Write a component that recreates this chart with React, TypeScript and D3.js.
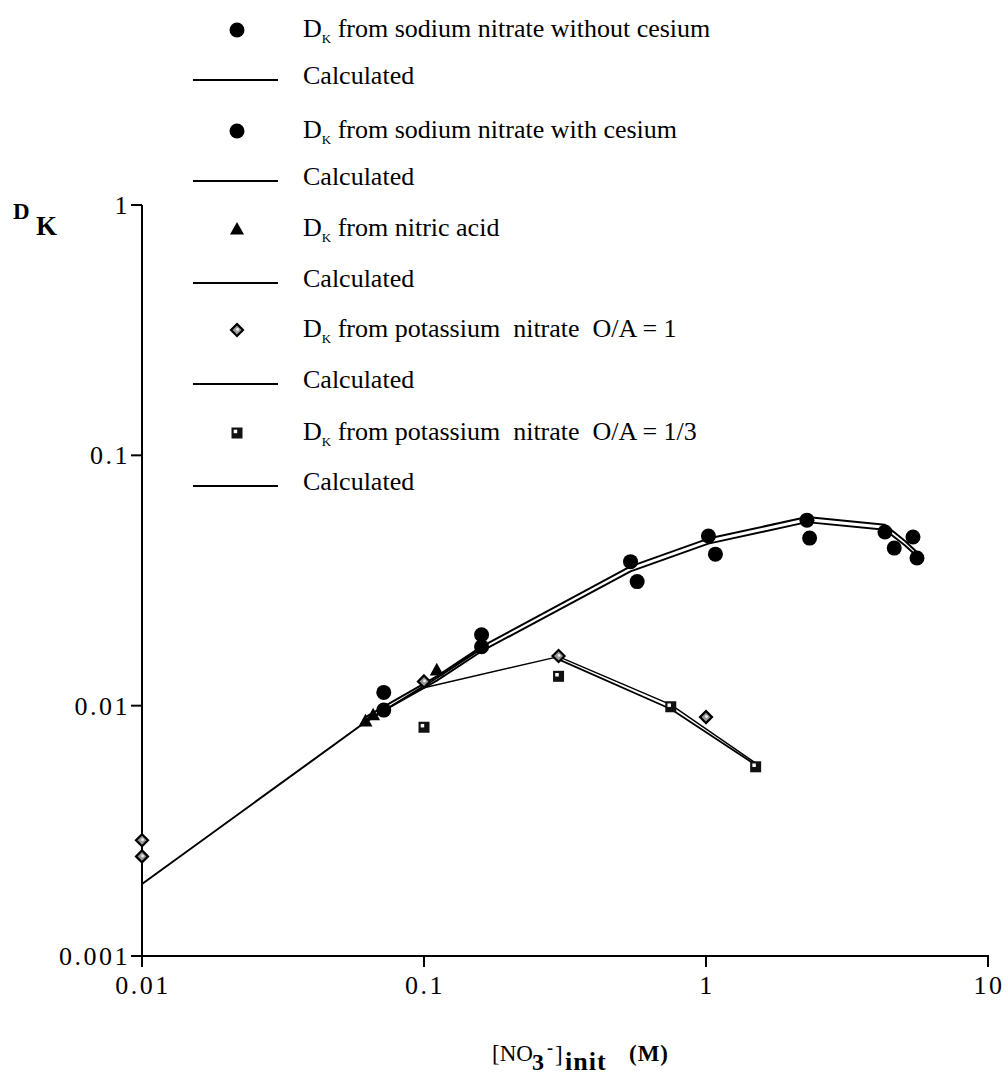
import React from 'react';
import * as d3 from 'd3';

// ---- data ----
const naNoCsX = [0.072, 0.16, 0.54, 1.02, 2.28, 4.31, 5.42];
const naNoCsY = [0.0113, 0.0192, 0.0376, 0.0476, 0.0551, 0.0494, 0.0472];

const naCsX = [0.072, 0.16, 0.57, 1.08, 2.33, 4.65, 5.6];
const naCsY = [0.0096, 0.0172, 0.0313, 0.0403, 0.0467, 0.0426, 0.0389];

const hno3X = [0.062, 0.066, 0.111];
const hno3Y = [0.0087, 0.0092, 0.0139];

const kno3aX = [0.01, 0.01, 0.1, 0.3, 1.0];
const kno3aY = [0.0029, 0.0025, 0.0125, 0.0158, 0.009];

const kno3bX = [0.1, 0.3, 0.75, 1.5];
const kno3bY = [0.0082, 0.0131, 0.0099, 0.0057];

// calculated curves
const calcNoCsX = [0.062, 0.111, 0.16, 0.54, 1.02, 2.28, 4.31, 5.08, 5.6];
const calcNoCsY = [0.009, 0.0131, 0.0172, 0.036, 0.0465, 0.0567, 0.0528, 0.0455, 0.041];
const calcCsX = [0.062, 0.111, 0.16, 0.54, 1.02, 2.28, 4.31, 5.08, 5.6];
const calcCsY = [0.0087, 0.0126, 0.0165, 0.0344, 0.0444, 0.0541, 0.0504, 0.0436, 0.0395];
const calcHno3X = [0.01, 0.062, 0.111, 0.16];
const calcHno3Y = [0.00194, 0.0086, 0.0129, 0.0169];
const calcKaX = [0.1, 0.3, 0.75, 1.5];
const calcKaY = [0.0118, 0.0157, 0.0101, 0.0059];
const calcKbX = [0.3, 0.75, 1.5];
const calcKbY = [0.0153, 0.0097, 0.0058];

const xTicks = [0.01, 0.1, 1, 10];
const yTicks = [0.001, 0.01, 0.1, 1];
const tickLabel = (v: number) => String(v);

const legendRows = [
  { kind: 'circle', text: ' from sodium nitrate without cesium' },
  { kind: 'line', text: 'Calculated' },
  { kind: 'circle', text: ' from sodium nitrate with cesium' },
  { kind: 'line', text: 'Calculated' },
  { kind: 'triangle', text: ' from nitric acid' },
  { kind: 'line', text: 'Calculated' },
  { kind: 'diamond', text: ' from potassium  nitrate  O/A = 1' },
  { kind: 'line', text: 'Calculated' },
  { kind: 'square', text: ' from potassium  nitrate  O/A = 1/3' },
  { kind: 'line', text: 'Calculated' },
];
const legendBase = [37, 84, 138, 185, 236, 287, 337, 388, 440, 490];

const FONT = '"Liberation Serif", "Times New Roman", Times, serif';

const zip = (xs: number[], ys: number[]) => xs.map((x, i) => [x, ys[i]] as [number, number]);

function Marker({ kind, cx, cy }: { kind: string; cx: number; cy: number }) {
  if (kind === 'circle') return <circle cx={cx} cy={cy} r={7.5} fill="#000" />;
  if (kind === 'triangle') {
    const s = 7;
    return <path d={`M${cx},${cy - s}L${cx + s},${cy + s * 0.8}L${cx - s},${cy + s * 0.8}Z`} fill="#000" />;
  }
  if (kind === 'diamond') {
    const s = 6;
    return (
      <g>
        <path d={`M${cx},${cy - s}L${cx + s},${cy}L${cx},${cy + s}L${cx - s},${cy}Z`} fill="#999" stroke="#000" strokeWidth={2.2} />
        <circle cx={cx + 0.5} cy={cy - 0.5} r={1.4} fill="#eee" />
      </g>
    );
  }
  if (kind === 'square') {
    const s = 5.5;
    return (
      <g>
        <rect x={cx - s} y={cy - s} width={2 * s} height={2 * s} fill="#111" />
        <rect x={cx - s + 2.2} y={cy - s + 2.2} width={3.5} height={3.5} fill="#fff" />
      </g>
    );
  }
  return null;
}

export default function App() {
  const width = 1008;
  const height = 1080;

  const x = d3.scaleLog().domain([0.01, 10]).range([142, 988]);
  const y = d3.scaleLog().domain([0.001, 1]).range([956, 205]);

  const line = d3
    .line<[number, number]>()
    .x((d) => x(d[0]))
    .y((d) => y(d[1]));

  const calcSeries = [
    { pts: zip(calcNoCsX, calcNoCsY), w: 2 },
    { pts: zip(calcCsX, calcCsY), w: 2 },
    { pts: zip(calcHno3X, calcHno3Y), w: 2 },
    { pts: zip(calcKaX, calcKaY), w: 1.5 },
    { pts: zip(calcKbX, calcKbY), w: 1.8 },
  ];

  const pointSeries = [
    { kind: 'circle', pts: zip(naNoCsX, naNoCsY) },
    { kind: 'circle', pts: zip(naCsX, naCsY) },
    { kind: 'triangle', pts: zip(hno3X, hno3Y) },
    { kind: 'square', pts: zip(kno3bX, kno3bY) },
    { kind: 'diamond', pts: zip(kno3aX, kno3aY) },
  ];

  const [x0, x1] = x.range();
  const [y0, y1] = y.range();

  return (
    <svg
      width={width}
      height={height}
      style={{ position: 'absolute', left: 0, top: 0, background: '#fff', fontFamily: FONT }}
    >
      {/* axes */}
      <g stroke="#000" strokeWidth={2}>
        <line x1={x0} x2={x0} y1={y1} y2={y0 + 1} />
        <line x1={x0 - 1} x2={x1 + 1} y1={y0} y2={y0} />
        {yTicks.map((t) => (
          <line key={'yt' + t} x1={x0 - 11} x2={x0} y1={y(t)} y2={y(t)} />
        ))}
        {xTicks.map((t) => (
          <line key={'xt' + t} x1={x(t)} x2={x(t)} y1={y0} y2={y0 + 11} />
        ))}
      </g>
      {yTicks.map((t) => (
        <text key={'yl' + t} x={x0 - 12} y={y(t) + 9} textAnchor="end" fontSize={26} letterSpacing={2.5}>
          {tickLabel(t)}
        </text>
      ))}
      {xTicks.map((t) => (
        <text key={'xl' + t} x={x(t) + 1} y={y0 + 38} textAnchor="middle" fontSize={26} letterSpacing={2.5}>
          {tickLabel(t)}
        </text>
      ))}

      {/* axis titles */}
      <text x={13} y={219} fontSize={23} fontWeight="bold">
        D
      </text>
      <text x={36} y={235} fontSize={27} fontWeight="bold">
        K
      </text>
      <g>
        <text x={492} y={1061} fontSize={23}>[NO</text>
        <text x={532} y={1070} fontSize={24} fontWeight="bold">3</text>
        <text x={547} y={1054} fontSize={18} fontWeight="bold">-</text>
        <text x={555} y={1062} fontSize={23}>]</text>
        <text x={565} y={1070} fontSize={26} fontWeight="bold" letterSpacing={1}>init</text>
        <text x={629} y={1061} fontSize={23} fontWeight="bold" letterSpacing={1}>(M)</text>
      </g>

      {/* calculated curves */}
      {calcSeries.map((s, i) => (
        <path key={'c' + i} d={line(s.pts) || ''} fill="none" stroke="#000" strokeWidth={s.w} strokeLinejoin="round" />
      ))}

      {/* data points */}
      {pointSeries.map((s, i) =>
        s.pts.map((p, j) => <Marker key={`p${i}-${j}`} kind={s.kind} cx={x(p[0])} cy={y(p[1])} />)
      )}

      {/* legend */}
      {legendRows.map((r, i) => {
        const base = legendBase[i];
        return (
          <g key={'lg' + i}>
            {r.kind === 'line' ? (
              <line x1={193} x2={278} y1={base - 4} y2={base - 4} stroke="#000" strokeWidth={2} />
            ) : (
              <Marker kind={r.kind} cx={237} cy={base - 7} />
            )}
            {r.kind === 'line' ? (
              <text x={303} y={base} fontSize={26}>
                {r.text}
              </text>
            ) : (
              <text x={303} y={base} fontSize={26} style={{ whiteSpace: 'pre' }}>
                D<tspan fontSize={13} dy={6}>K</tspan>
                <tspan dy={-6}>{r.text}</tspan>
              </text>
            )}
          </g>
        );
      })}
    </svg>
  );
}
